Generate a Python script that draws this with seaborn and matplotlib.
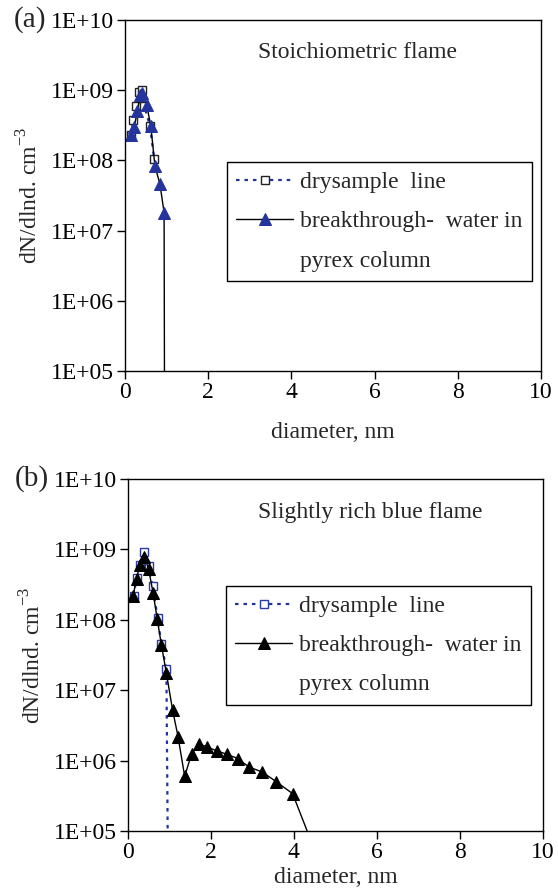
"""Particle size distributions, dry sample vs breakthrough water, two flames."""
import matplotlib

matplotlib.use("Agg")
import matplotlib.pyplot as plt
import numpy as np
import pandas as pd
import seaborn as sns
from matplotlib.lines import Line2D
from matplotlib.ticker import FixedLocator, FuncFormatter, NullLocator

sns.set_theme(style="ticks")
plt.rcParams["font.family"] = ["Liberation Serif", "DejaVu Serif"]
plt.rcParams["mathtext.fontset"] = "custom"
plt.rcParams["mathtext.rm"] = "Liberation Serif"

# (a) stoichiometric flame
dry_a_x = [0.14, 0.20, 0.26, 0.34, 0.42, 0.46, 0.60, 0.70]
dry_a_y = [2.3e8, 3.8e8, 6.0e8, 9.3e8, 1.0e9, 6.0e8, 3.1e8, 1.05e8]
brk_a_x = [0.14, 0.22, 0.30, 0.36, 0.42, 0.52, 0.62, 0.72, 0.84, 0.94, 0.96]
brk_a_y = [2.3e8, 3.0e8, 5.0e8, 8.5e8, 9.1e8, 6.2e8, 3.1e8, 8.3e7, 4.6e7, 1.8e7, 1e2]

# (b) slightly rich blue flame
dry_b_x = [0.14, 0.21, 0.29, 0.39, 0.50, 0.60, 0.72, 0.81, 0.93, 1.00]
dry_b_y = [2.2e8, 3.9e8, 6.0e8, 9.3e8, 5.8e8, 3.0e8, 1.05e8, 4.5e7, 2.0e7, 1e2]
brk_b_x = [0.13, 0.21, 0.29, 0.40, 0.50, 0.61, 0.71, 0.81, 0.93, 1.08, 1.21, 1.37,
           1.54, 1.72, 1.91, 2.14, 2.39, 2.65, 2.92, 3.24, 3.58, 3.97, 4.40]
brk_b_y = [2.2e8, 3.8e8, 6.0e8, 7.9e8, 5.3e8, 2.4e8, 1.02e8, 4.4e7, 1.74e7, 5.2e6, 2.2e6, 6.0e5,
           1.26e6, 1.73e6, 1.56e6, 1.38e6, 1.23e6, 1.07e6, 8.1e5, 6.9e5, 5.0e5, 3.4e5, 7.6e4]

y_ticks = [1e5, 1e6, 1e7, 1e8, 1e9, 1e10]
x_ticks = [0, 2, 4, 6, 8, 10]

BLUE = "#24349C"
FS = 17


def _panel(ax, dry_x, dry_y, brk_x, brk_y, title, title_x, tag, tri_color, sq_edge, leg_anchor):
    dry = pd.DataFrame({"d": dry_x, "n": dry_y})
    brk = pd.DataFrame({"d": brk_x, "n": brk_y})
    ax.set_yscale("log")
    sns.lineplot(data=dry, x="d", y="n", ax=ax, sort=False, estimator=None,
                 color=BLUE, linestyle=(0, (1.6, 2.2)), linewidth=1.6,
                 marker="s", markersize=5.5, markerfacecolor="white",
                 markeredgecolor=sq_edge, markeredgewidth=1.0, label="drysample  line")
    sns.lineplot(data=brk, x="d", y="n", ax=ax, sort=False, estimator=None,
                 color="black", linewidth=1.0, marker="^", markersize=8,
                 markerfacecolor=tri_color, markeredgecolor=tri_color,
                 label="breakthrough-  water in")

    ax.set_xlim(0, 10)
    ax.set_ylim(1e5, 1e10)
    ax.yaxis.set_major_locator(FixedLocator(y_ticks))
    ax.yaxis.set_minor_locator(NullLocator())
    ax.yaxis.set_major_formatter(FuncFormatter(lambda v, p: f"1E+{int(round(np.log10(v))):02d}"))
    ax.set_xticks(x_ticks)
    ax.tick_params(direction="out", length=6, width=1, colors="black",
                   labelsize=FS, pad=2)
    for sp in ax.spines.values():
        sp.set_visible(True)
        sp.set_color("black")
        sp.set_linewidth(1.0)

    ax.set_xlabel("diameter, nm", fontsize=FS, labelpad=14)
    ax.set_ylabel(r"dN/dlnd. cm$^{\mathregular{-3}}$", fontsize=FS, labelpad=6)
    ax.text(title_x, 0.906, title, transform=ax.transAxes, ha="center", va="center", fontsize=FS)
    ax.text(-0.19, 1.0, tag, transform=ax.transAxes, ha="right", va="center", fontsize=21)

    handles = list(ax.lines[:2]) + [Line2D([], [], color="none")]
    labels = ["drysample  line", "breakthrough-  water in", "pyrex column"]
    leg = ax.legend(handles, labels, loc="upper left", bbox_to_anchor=leg_anchor,
                    borderaxespad=0, fontsize=FS, frameon=True, fancybox=False,
                    edgecolor="black", framealpha=1, handlelength=2.4,
                    handletextpad=0.3, labelspacing=0.75, borderpad=0.4)
    leg.get_frame().set_linewidth(1.0)


fig = plt.figure(figsize=(5.58, 8.96), dpi=100)
ax_a = fig.add_axes([0.224, 0.586, 0.7455, 0.3917])
ax_b = fig.add_axes([0.229, 0.0725, 0.744, 0.3929])

_panel(ax_a, dry_a_x, dry_a_y, brk_a_x, brk_a_y, "Stoichiometric flame", 0.56, "(a)",
       BLUE, "#222222", (0.245, 0.595))
_panel(ax_b, dry_b_x, dry_b_y, brk_b_x, brk_b_y, "Slightly rich blue flame", 0.585, "(b)",
       "black", "#2B3A9E", (0.236, 0.696))
ax_b.xaxis.labelpad = 3

fig.savefig("out.png", dpi=100)
